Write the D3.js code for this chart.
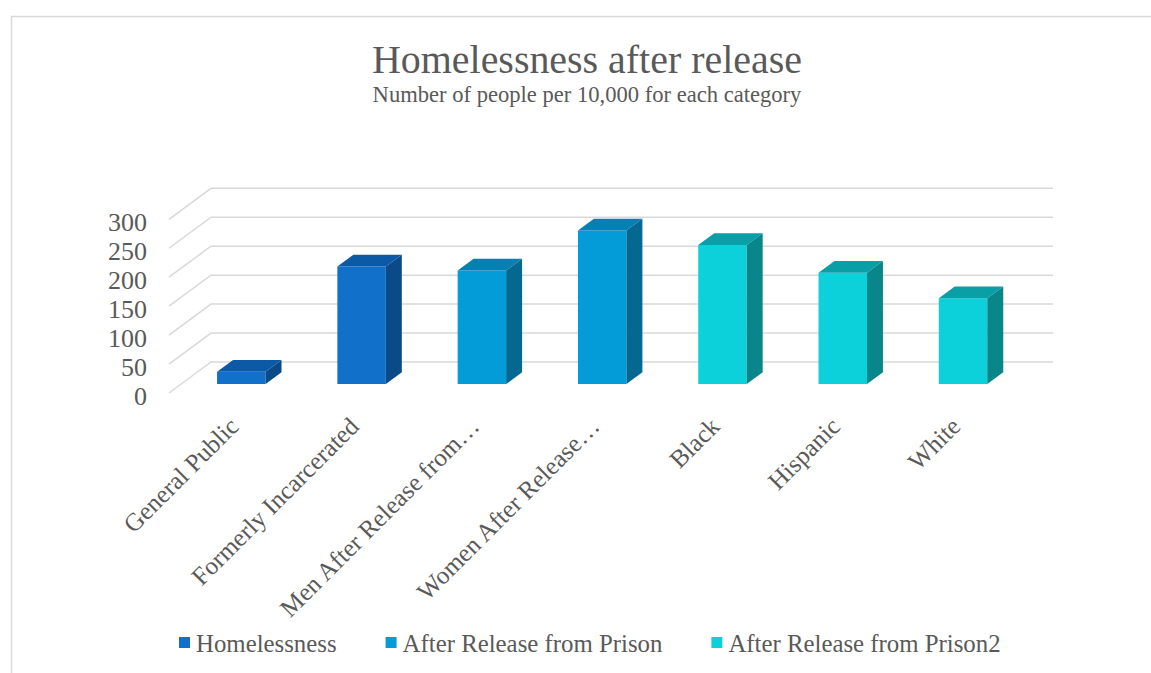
<!DOCTYPE html>
<html><head><meta charset="utf-8">
<script src="https://cdn.jsdelivr.net/npm/d3@7"></script>
<style>body{margin:0;background:#fff;} svg{display:block;}</style>
</head><body>
<svg id="c" width="1151" height="673"></svg>
<script>
// ---- data ----
const categories = ["General Public","Formerly Incarcerated","Men After Release from…","Women After Release…","Black","Hispanic","White"];
const seriesNames = ["Homelessness","After Release from Prison","After Release from Prison2"];
const homelessness = [21, 203, null, null, null, null, null];
const afterRelease = [null, null, 196, 265, null, null, null];
const afterRelease2 = [null, null, null, null, 240, 192, 148];
const yTicks = [0, 50, 100, 150, 200, 250, 300];

const seriesValues = [homelessness, afterRelease, afterRelease2];
const colors = [
  {front:"#1170ca", top:"#0c5aa6", side:"#0a4a88"},
  {front:"#049cd8", top:"#0580b3", side:"#046891"},
  {front:"#0cd1da", top:"#0a9fa6", side:"#088689"}
];
const FONT = "'Liberation Serif', 'DejaVu Serif', serif";
const TXT = "#595959";

const svg = d3.select("#c");
const W = 1151, H = 673;

// measuring helper
function fitSize(str, target) {
  const t = svg.append("text").attr("font-family", FONT).attr("font-size", 100).text(str);
  const w = t.node().getComputedTextLength();
  t.remove();
  return 100 * target / w;
}

// frame
svg.append("path").attr("d", `M11.5,${H} V16.5 H${W}`).attr("fill","none")
  .attr("stroke","#d9d9d9").attr("stroke-width",1.5);

// ---- 3D oblique geometry ----
const DX = 42, DY = 31;          // full floor depth offset
const x = d3.scaleBand().domain(categories).range([169, 1011]);
const y = d3.scaleLinear().domain([0, 300]).range([393, 219.3]);
const proj = (px, py, z) => [px + z * DX, py - z * DY];
const z0 = 0.29, z1 = 0.67;      // bar depth range
const barFrac = 0.403;

// gridlines: diagonal on side wall + horizontal on back wall
const xBackEnd = x.range()[1] + DX;
const gl = svg.append("g").attr("stroke","#d9d9d9").attr("stroke-width",1.5).attr("fill","none");
yTicks.forEach(v => {
  const a = proj(x.range()[0], y(v), 0), b = proj(x.range()[0], y(v), 1);
  gl.append("path").attr("d", `M${a[0]},${a[1]} L${b[0]},${b[1]} L${xBackEnd},${b[1]}`);
});

// y tick labels
const tickSize = fitSize("300", 39);
svg.append("g").selectAll("text").data(yTicks).join("text")
  .attr("x", 147).attr("y", d => y(d) + 3).attr("dy", "0.35em")
  .attr("text-anchor","end").attr("font-family", FONT).attr("font-size", tickSize)
  .attr("fill", TXT).text(d => d);

// bars
const bars = [];
seriesValues.forEach((arr, s) => arr.forEach((v, i) => { if (v != null) bars.push({s, i, v, c: categories[i]}); }));
const gb = svg.append("g");
bars.forEach(d => {
  const bw = x.bandwidth() * barFrac;
  const xl = x(d.c) + (x.bandwidth() - bw) / 2, xr = xl + bw;
  const yt = y(d.v), yb = y(0);
  const P = (px, py, z) => proj(px, py, z).join(",");
  const col = colors[d.s];
  gb.append("polygon").attr("points", [P(xl,yt,z0),P(xr,yt,z0),P(xr,yb,z0),P(xl,yb,z0)].join(" ")).attr("fill", col.front);
  gb.append("polygon").attr("points", [P(xl,yt,z0),P(xr,yt,z0),P(xr,yt,z1),P(xl,yt,z1)].join(" ")).attr("fill", col.top);
  gb.append("polygon").attr("points", [P(xr,yt,z0),P(xr,yt,z1),P(xr,yb,z1),P(xr,yb,z0)].join(" ")).attr("fill", col.side);
});

// x labels
const labSize = fitSize("General PublicFormerly IncarceratedMen After Release from…Women After Release…", 890);
svg.append("g").selectAll("text").data(categories).join("text")
  .attr("transform", d => `translate(${x(d) + x.bandwidth()/2 + 11},428) rotate(-45)`)
  .attr("text-anchor","end").attr("font-family", FONT).attr("font-size", labSize)
  .attr("fill", TXT).text(d => d);

// title & subtitle
svg.append("text").attr("x", 587).attr("y", 73).attr("text-anchor","middle")
  .attr("font-family", FONT).attr("font-size", fitSize("Homelessness after release", 430))
  .attr("fill", TXT).text("Homelessness after release");
svg.append("text").attr("x", 587).attr("y", 102).attr("text-anchor","middle")
  .attr("font-family", FONT).attr("font-size", fitSize("Number of people per 10,000 for each category", 429))
  .attr("fill", TXT).text("Number of people per 10,000 for each category");

// legend
const legSize = fitSize(seriesNames.join(""), 673);
const lg = svg.append("g");
let lx = 179;
seriesNames.forEach((n, s) => {
  lg.append("rect").attr("x", lx).attr("y", 637).attr("width", 11).attr("height", 11).attr("fill", colors[s].front);
  const t = lg.append("text").attr("x", lx + 17).attr("y", 643).attr("dy","0.35em")
    .attr("font-family", FONT).attr("font-size", legSize).attr("fill", TXT).text(n);
  lx += 17 + t.node().getComputedTextLength() + 49;
});
</script>
</body></html>
